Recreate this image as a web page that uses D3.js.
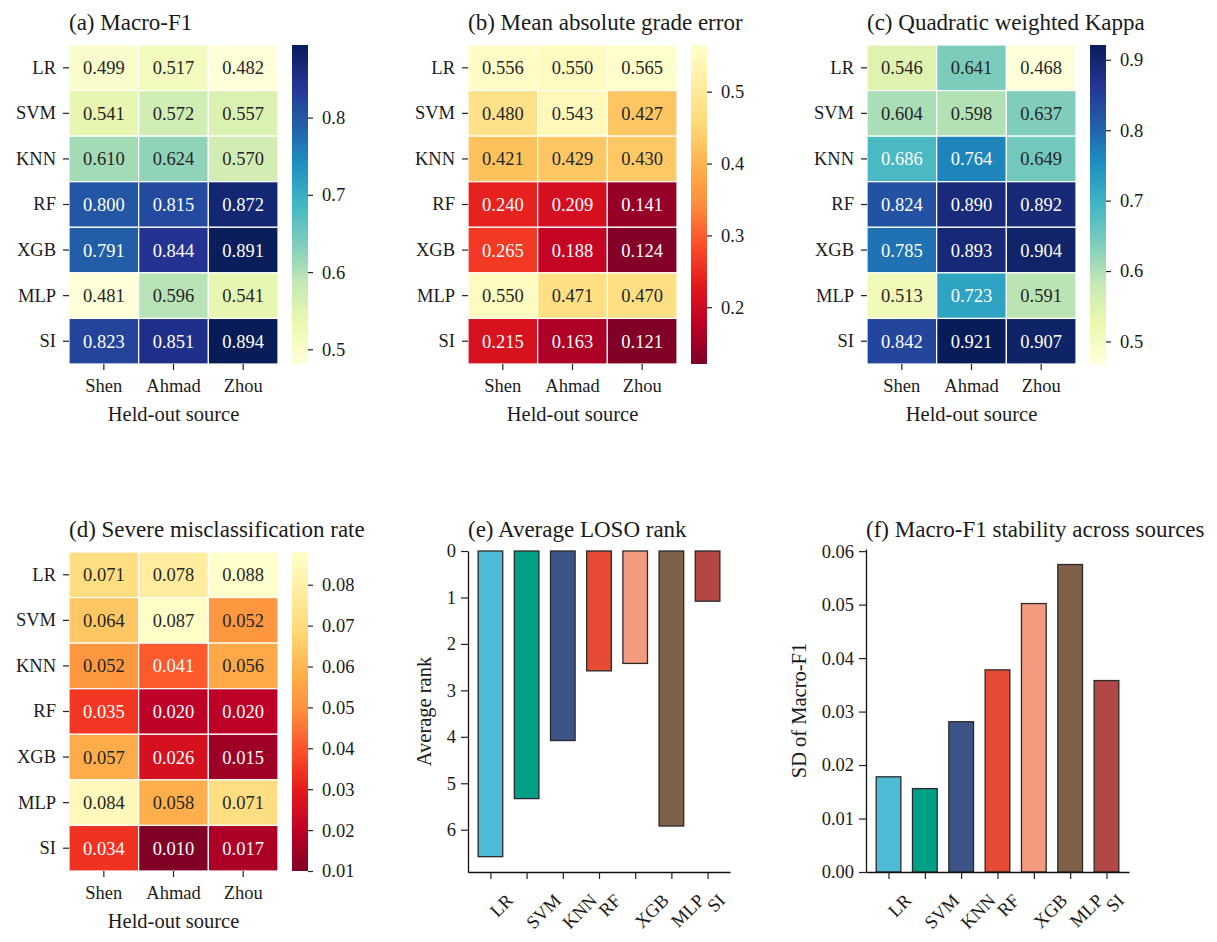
<!DOCTYPE html>
<html>
<head>
<meta charset="utf-8">
<script src="https://cdn.jsdelivr.net/npm/d3@7"></script>
<style>
body { margin: 0; background: #fff; }
svg text { font-family: "Liberation Serif", "Times New Roman", serif; fill: #1a1a1a; }
</style>
</head>
<body>
<div id="chart"></div>
<script>
"use strict";
// categories
const models = ['LR', 'SVM', 'KNN', 'RF', 'XGB', 'MLP', 'SI'];
const sources = ['Shen', 'Ahmad', 'Zhou'];

// heatmap values, one row per model (Shen, Ahmad, Zhou)
const macroF1 = [
    [0.499, 0.517, 0.482], [0.541, 0.572, 0.557], [0.610, 0.624, 0.570],
    [0.800, 0.815, 0.872], [0.791, 0.844, 0.891], [0.481, 0.596, 0.541],
    [0.823, 0.851, 0.894]
];
const gradeError = [
    [0.556, 0.550, 0.565], [0.480, 0.543, 0.427], [0.421, 0.429, 0.430],
    [0.240, 0.209, 0.141], [0.265, 0.188, 0.124], [0.550, 0.471, 0.470],
    [0.215, 0.163, 0.121]
];
const kappa = [
    [0.546, 0.641, 0.468], [0.604, 0.598, 0.637], [0.686, 0.764, 0.649],
    [0.824, 0.890, 0.892], [0.785, 0.893, 0.904], [0.513, 0.723, 0.591],
    [0.842, 0.921, 0.907]
];
const severeRate = [
    [0.071, 0.078, 0.088], [0.064, 0.087, 0.052], [0.052, 0.041, 0.056],
    [0.035, 0.020, 0.020], [0.057, 0.026, 0.015], [0.084, 0.058, 0.071],
    [0.034, 0.010, 0.017]
];
// bar values
const avgRank = [6.58, 5.33, 4.08, 2.58, 2.42, 5.92, 1.08];
const sdMacroF1 = [0.0178, 0.0156, 0.0281, 0.0378, 0.0502, 0.0575, 0.0358];
const barColors = ['#4DBBD5', '#00A087', '#3C5488', '#E64B35', '#F39B7F', '#7E6148', '#B24745'];

// tick labels
const ticksF1 = [0.5, 0.6, 0.7, 0.8];
const ticksErr = [0.2, 0.3, 0.4, 0.5];
const ticksKappa = [0.5, 0.6, 0.7, 0.8, 0.9];
const ticksSevere = [0.01, 0.02, 0.03, 0.04, 0.05, 0.06, 0.07, 0.08];
const ticksRank = [0, 1, 2, 3, 4, 5, 6];
const ticksSD = [0, 0.01, 0.02, 0.03, 0.04, 0.05, 0.06];

const W = 1217, H = 942;
const TICK_FS = 18.5, LABEL_FS = 20.5, TITLE_FS = 23;

let svg = d3.select('#chart').append('svg')
    .attr('width', W).attr('height', H)
    .attr('viewBox', '0 0 ' + W + ' ' + H)
    .style('background', '#fff');
let defs = svg.append('defs');

function luminance(c) {
    let rgb = d3.rgb(c);
    let ch = [rgb.r, rgb.g, rgb.b].map(function (v) {
        v = v / 255;
        return v <= 0.03928 ? v / 12.92 : Math.pow((v + 0.055) / 1.055, 2.4);
    });
    return 0.2126 * ch[0] + 0.7152 * ch[1] + 0.0722 * ch[2];
}

function styleAxis(g, fs) {
    g.selectAll('text').style('font-size', fs + 'px').attr('fill', '#1a1a1a');
    g.selectAll('line').attr('stroke', '#222').attr('stroke-width', 1.2);
    g.selectAll('path.domain').attr('stroke', '#111').attr('stroke-width', 1.3);
}

function heatmap(id, left, top, values, scheme, cbTicks, cbFormat, title) {
    const w = 209, h = 319;
    let g = svg.append('g');
    let x = d3.scaleBand().domain(sources).range([left, left + w]);
    let y = d3.scaleBand().domain(models).range([top, top + h]);
    let flat = values.flat();
    let vmin = d3.min(flat), vmax = d3.max(flat);
    // matplotlib style linear segmented colormap over the 9 brewer colours
    let cmap = d3.scaleLinear()
        .domain(scheme.map(function (c, i) { return vmin + (vmax - vmin) * i / (scheme.length - 1); }))
        .range(scheme)
        .interpolate(d3.interpolateRgb);

    let cells = [];
    values.forEach(function (row, i) {
        row.forEach(function (v, j) {
            cells.push({ m: models[i], s: sources[j], v: v });
        });
    });
    let cell = g.selectAll('g.cell').data(cells).enter().append('g').attr('class', 'cell');
    cell.append('rect')
        .attr('x', function (d) { return x(d.s); })
        .attr('y', function (d) { return y(d.m); })
        .attr('width', x.bandwidth())
        .attr('height', y.bandwidth())
        .attr('fill', function (d) { return cmap(d.v); })
        .attr('stroke', '#fff')
        .attr('stroke-width', 1.2);
    cell.append('text')
        .attr('x', function (d) { return x(d.s) + x.bandwidth() / 2; })
        .attr('y', function (d) { return y(d.m) + y.bandwidth() / 2; })
        .attr('dy', '0.35em')
        .attr('text-anchor', 'middle')
        .style('font-size', TICK_FS + 'px')
        .style('fill', function (d) { return luminance(cmap(d.v)) > 0.408 ? '#262626' : '#ffffff'; })
        .text(function (d) { return d3.format('.3f')(d.v); });

    // axes
    let ya = g.append('g').attr('transform', 'translate(' + left + ',0)')
        .call(d3.axisLeft(y).tickSize(6).tickPadding(7));
    ya.select('.domain').remove();
    styleAxis(ya, TICK_FS);
    let xa = g.append('g').attr('transform', 'translate(0,' + (top + h) + ')')
        .call(d3.axisBottom(x).tickSize(6).tickPadding(9));
    xa.select('.domain').remove();
    styleAxis(xa, TICK_FS);

    g.append('text')
        .attr('x', left + w / 2).attr('y', top + h + 57)
        .attr('text-anchor', 'middle')
        .style('font-size', LABEL_FS + 'px')
        .text('Held-out source');
    g.append('text')
        .attr('x', left).attr('y', top - 15)
        .style('font-size', TITLE_FS + 'px')
        .text(title);

    // colour bar
    const cbx = left + 223, cbw = 16;
    let grad = defs.append('linearGradient').attr('id', 'grad-' + id)
        .attr('x1', 0).attr('y1', 1).attr('x2', 0).attr('y2', 0);
    scheme.forEach(function (c, i) {
        grad.append('stop').attr('offset', i / (scheme.length - 1)).attr('stop-color', c);
    });
    g.append('rect')
        .attr('x', cbx).attr('y', top).attr('width', cbw).attr('height', h)
        .attr('fill', 'url(#grad-' + id + ')');
    let cb = d3.scaleLinear().domain([vmin, vmax]).range([top + h, top]);
    let ca = g.append('g').attr('transform', 'translate(' + (cbx + cbw) + ',0)')
        .call(d3.axisRight(cb).tickValues(cbTicks).tickFormat(d3.format(cbFormat)).tickSize(5).tickPadding(9));
    ca.select('.domain').remove();
    styleAxis(ca, TICK_FS);
}

function barPanel(left, right, top, bottom, values, ymax, inverted, yTicks, yFormat, title, ylabel, ylabelX) {
    let g = svg.append('g');
    let x = d3.scaleLinear().domain([-0.62, 6.62]).range([left, right]);
    let y = d3.scaleLinear().domain([0, ymax]).range(inverted ? [top, bottom] : [bottom, top]);
    const bw = (x(1) - x(0)) * 0.68;

    g.selectAll('rect.bar').data(values).enter().append('rect')
        .attr('class', 'bar')
        .attr('x', function (d, i) { return x(i) - bw / 2; })
        .attr('y', function (d) { return inverted ? y(0) : y(d); })
        .attr('width', bw)
        .attr('height', function (d) { return Math.abs(y(d) - y(0)); })
        .attr('fill', function (d, i) { return barColors[i]; })
        .attr('stroke', '#2a2a2a')
        .attr('stroke-width', 1.3);

    let ya = g.append('g').attr('transform', 'translate(' + left + ',0)')
        .call(d3.axisLeft(y).tickValues(yTicks).tickFormat(d3.format(yFormat)).tickSize(7).tickSizeOuter(0).tickPadding(5));
    styleAxis(ya, TICK_FS);
    let xa = g.append('g').attr('transform', 'translate(0,' + bottom + ')')
        .call(d3.axisBottom(x).tickValues(d3.range(models.length)).tickFormat(function (i) { return models[i]; })
            .tickSize(7).tickSizeOuter(0));
    styleAxis(xa, TICK_FS);
    // rotated tick labels, top-right ends aligned
    xa.selectAll('.tick text').each(function () {
        let t = d3.select(this);
        let w = this.getComputedTextLength();
        let a = TICK_FS * 0.66;
        let ax = -2 + 0.707 * (w + a), ay = 21 + 0.707 * a;
        t.attr('text-anchor', 'end').attr('dy', null).attr('y', null)
            .attr('transform', 'translate(' + ax + ',' + ay + ') rotate(-45)');
    });

    g.append('text')
        .attr('transform', 'translate(' + ylabelX + ',' + ((top + bottom) / 2) + ') rotate(-90)')
        .attr('text-anchor', 'middle')
        .style('font-size', LABEL_FS + 'px')
        .text(ylabel);
    g.append('text')
        .attr('x', left).attr('y', 537)
        .style('font-size', TITLE_FS + 'px')
        .text(title);
}

const ylgnbu = d3.schemeYlGnBu[9];
const ylorrdR = d3.schemeYlOrRd[9].slice().reverse();

heatmap('a', 69, 45, macroF1, ylgnbu, ticksF1, '.1f', '(a) Macro-F1');
heatmap('b', 468, 45, gradeError, ylorrdR, ticksErr, '.1f', '(b) Mean absolute grade error');
heatmap('c', 867, 45, kappa, ylgnbu, ticksKappa, '.1f', '(c) Quadratic weighted Kappa');
heatmap('d', 69, 552, severeRate, ylorrdR, ticksSevere, '.2f', '(d) Severe misclassification rate');

barPanel(468, 730, 551, 872, avgRank, 6.91, true, ticksRank, 'd', '(e) Average LOSO rank', 'Average rank', 431);
barPanel(866, 1129, 549, 872, sdMacroF1, 0.0604, false, ticksSD, '.2f', '(f) Macro-F1 stability across sources', 'SD of Macro-F1', 806);
</script>
</body>
</html>
